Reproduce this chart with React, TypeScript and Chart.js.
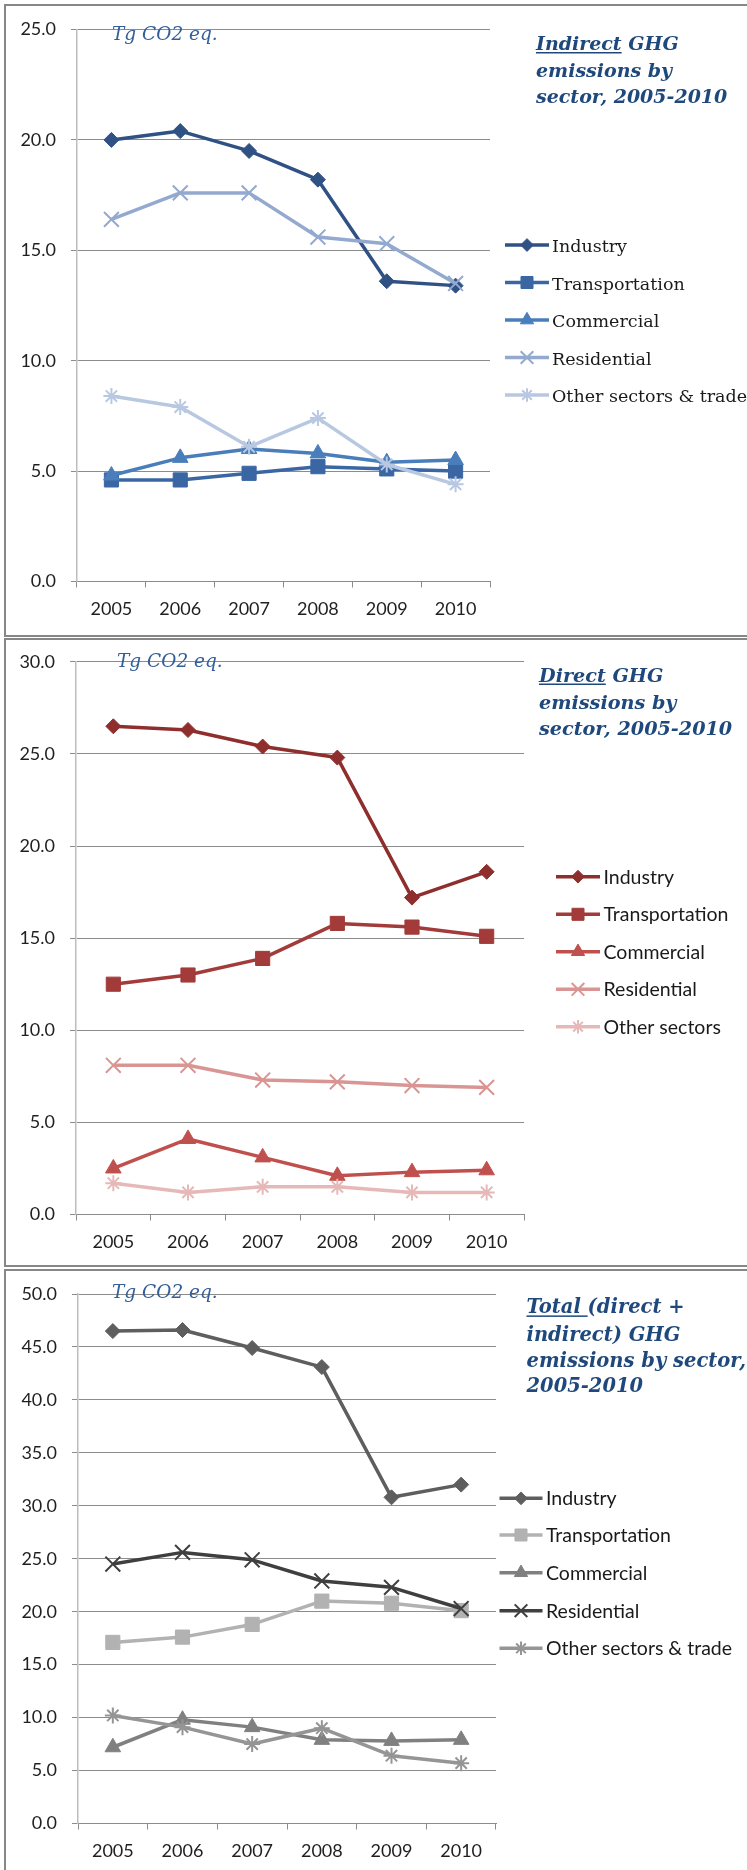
import React, { useEffect, useRef } from 'react';
import { Chart, registerables } from 'chart.js';

Chart.register(...registerables);

// ---------- data ----------
const years = ['2005', '2006', '2007', '2008', '2009', '2010'];

const indirectLabels = ['Industry', 'Transportation', 'Commercial', 'Residential', 'Other sectors & trade'];
const directLabels = ['Industry', 'Transportation', 'Commercial', 'Residential', 'Other sectors'];
const totalLabels = ['Industry', 'Transportation', 'Commercial', 'Residential', 'Other sectors & trade'];

const indirectIndustry = [20.0, 20.4, 19.5, 18.2, 13.6, 13.4];
const indirectTransportation = [4.6, 4.6, 4.9, 5.2, 5.1, 5.0];
const indirectCommercial = [4.8, 5.6, 6.0, 5.8, 5.4, 5.5];
const indirectResidential = [16.4, 17.6, 17.6, 15.6, 15.3, 13.5];
const indirectOther = [8.4, 7.9, 6.1, 7.4, 5.3, 4.4];

const directIndustry = [26.5, 26.3, 25.4, 24.8, 17.2, 18.6];
const directTransportation = [12.5, 13.0, 13.9, 15.8, 15.6, 15.1];
const directCommercial = [2.5, 4.1, 3.1, 2.1, 2.3, 2.4];
const directResidential = [8.1, 8.1, 7.3, 7.2, 7.0, 6.9];
const directOther = [1.7, 1.2, 1.5, 1.5, 1.2, 1.2];

const totalIndustry = [46.5, 46.6, 44.9, 43.1, 30.8, 32.0];
const totalTransportation = [17.1, 17.6, 18.8, 21.0, 20.8, 20.1];
const totalCommercial = [7.2, 9.8, 9.1, 7.9, 7.8, 7.9];
const totalResidential = [24.5, 25.6, 24.9, 22.9, 22.3, 20.3];
const totalOther = [10.2, 9.1, 7.5, 9.0, 6.4, 5.7];

const indirectTitle = ['Indirect GHG', 'emissions by', 'sector, 2005-2010'];
const directTitle = ['Direct GHG', 'emissions by', 'sector, 2005-2010'];
const totalTitle = ['Total (direct +', 'indirect) GHG', 'emissions by sector,', '2005-2010'];
const underlinedWords = ['Indirect', 'Direct', 'Total '];
const unitLabel = 'Tg CO2 eq.';
const yMaxes = [25, 30, 50];

// ---------- styling ----------
const blueColors = ['#2F5184', '#3A67A4', '#4A7EBB', '#93A9CF', '#B9C8E1'];
const redColors = ['#8E2F2D', '#A23B39', '#C0504D', '#D99593', '#E6B9B8'];
const greyColors = ['#5E5E5E', '#B2B2B2', '#808080', '#3F3F3F', '#959595'];
const markerStyles = ['rectRot', 'rect', 'triangle', 'crossRot', 'star'];
const markerRadii = [7.5, 10, 9, 10.5, 8];
const markerBorders = [1, 1, 1, 2, 2];

const W = 747;

type Panel = {
  canvasTop: number;
  height: number;
  chartLeft: number;
  chartRight: number;
  chartTop: number;
  chartBottom: number;
  yMax: number;
  labels: string[];
  series: number[][];
  colors: string[];
  title: string[];
  underline: string;
  titleX: number;
  titleY: number[];
  titleSize: number;
  unitX: number;
  unitY: number;
  legX0: number;
  legX1: number;
  legTextX: number;
  legY: number[];
  legFont: string;
  legBase: number;
};

const panels: Panel[] = [
  {
    canvasTop: 0, height: 636,
    chartLeft: 77, chartRight: 490, chartTop: 29.5, chartBottom: 581.5,
    yMax: yMaxes[0], labels: indirectLabels,
    series: [indirectIndustry, indirectTransportation, indirectCommercial, indirectResidential, indirectOther],
    colors: blueColors,
    title: indirectTitle, underline: underlinedWords[0], titleX: 536, titleY: [50, 76.5, 103], titleSize: 19,
    unitX: 112, unitY: 39.5,
    legX0: 505, legX1: 549, legTextX: 552, legY: [245, 282.5, 320, 357.5, 395],
    legFont: '17.5px "DejaVu Serif"', legBase: 7,
  },
  {
    canvasTop: 636, height: 632,
    chartLeft: 76, chartRight: 524, chartTop: 24.5, chartBottom: 578.5,
    yMax: yMaxes[1], labels: directLabels,
    series: [directIndustry, directTransportation, directCommercial, directResidential, directOther],
    colors: redColors,
    title: directTitle, underline: underlinedWords[1], titleX: 539, titleY: [45.5, 72.5, 99], titleSize: 19.2,
    unitX: 117, unitY: 30.5,
    legX0: 556, legX1: 600, legTextX: 603.5, legY: [240.7, 278.3, 315.7, 353.3, 390.7],
    legFont: '19.5px Lato', legBase: 7,
  },
  {
    canvasTop: 1268, height: 602,
    chartLeft: 78, chartRight: 496, chartTop: 26, chartBottom: 555.5,
    yMax: yMaxes[2], labels: totalLabels,
    series: [totalIndustry, totalTransportation, totalCommercial, totalResidential, totalOther],
    colors: greyColors,
    title: totalTitle, underline: underlinedWords[2], titleX: 526.5, titleY: [45.4, 72.6, 99.1, 124.4], titleSize: 19.5,
    unitX: 112, unitY: 29.8,
    legX0: 499.5, legX1: 542.5, legTextX: 546, legY: [230.3, 267, 304.7, 342.7, 380.3],
    legFont: '19.5px Lato', legBase: 7,
  },
];

function drawMarker(ctx: CanvasRenderingContext2D, style: string, x: number, y: number, r: number, color: string, bw: number) {
  ctx.save();
  ctx.fillStyle = color;
  ctx.strokeStyle = color;
  ctx.lineWidth = bw;
  const q = Math.SQRT1_2 * r;
  ctx.beginPath();
  if (style === 'rectRot') {
    ctx.moveTo(x - r, y);
    ctx.lineTo(x, y - r);
    ctx.lineTo(x + r, y);
    ctx.lineTo(x, y + r);
    ctx.closePath();
    ctx.fill();
    ctx.stroke();
  } else if (style === 'rect') {
    ctx.rect(x - q, y - q, 2 * q, 2 * q);
    ctx.fill();
    ctx.stroke();
  } else if (style === 'triangle') {
    ctx.moveTo(x, y - r);
    ctx.lineTo(x + r * Math.sin((2 * Math.PI) / 3), y - r * Math.cos((2 * Math.PI) / 3));
    ctx.lineTo(x + r * Math.sin((4 * Math.PI) / 3), y - r * Math.cos((4 * Math.PI) / 3));
    ctx.closePath();
    ctx.fill();
    ctx.stroke();
  } else if (style === 'crossRot') {
    ctx.moveTo(x - q, y - q);
    ctx.lineTo(x + q, y + q);
    ctx.moveTo(x + q, y - q);
    ctx.lineTo(x - q, y + q);
    ctx.stroke();
  } else if (style === 'star') {
    ctx.moveTo(x - q, y - q);
    ctx.lineTo(x + q, y + q);
    ctx.moveTo(x + q, y - q);
    ctx.lineTo(x - q, y + q);
    ctx.moveTo(x, y - r);
    ctx.lineTo(x, y + r);
    ctx.moveTo(x - r, y);
    ctx.lineTo(x + r, y);
    ctx.stroke();
  }
  ctx.restore();
}

function makeDecor(p: Panel) {
  return {
    id: 'decor',
    afterDraw(chart: any) {
      const ctx: CanvasRenderingContext2D = chart.ctx;
      ctx.save();
      ctx.textAlign = 'left';
      ctx.textBaseline = 'alphabetic';
      // unit
      ctx.font = 'italic 18.5px "DejaVu Serif"';
      ctx.fillStyle = '#335E99';
      ctx.fillText(unitLabel, p.unitX, p.unitY);
      // title
      ctx.font = `italic bold ${p.titleSize}px "DejaVu Serif"`;
      ctx.fillStyle = '#1F497D';
      p.title.forEach((line, i) => {
        const y = p.titleY[i];
        ctx.fillText(line, p.titleX, y);
        if (i === 0) {
          const w = ctx.measureText(p.underline).width;
          ctx.fillRect(p.titleX, y + 2, w, 1.5);
        }
      });
      // legend
      chart.data.datasets.forEach((ds: any, i: number) => {
        const y = p.legY[i];
        ctx.strokeStyle = ds.borderColor;
        ctx.lineWidth = 3.5;
        ctx.beginPath();
        ctx.moveTo(p.legX0, y);
        ctx.lineTo(p.legX1, y);
        ctx.stroke();
        drawMarker(ctx, ds.pointStyle, (p.legX0 + p.legX1) / 2, y, ds.pointRadius * 0.85, ds.borderColor, ds.pointBorderWidth);
        ctx.fillStyle = '#1a1a1a';
        ctx.font = p.legFont;
        ctx.fillText(ds.label, p.legTextX, y + p.legBase);
      });
      ctx.restore();
    },
  };
}

function buildChart(canvas: HTMLCanvasElement, p: Panel) {
  const tickFont = { family: 'Lato', size: 18 };
  const datasets = p.series.map((data, i) => ({
    label: p.labels[i],
    data,
    borderColor: p.colors[i],
    backgroundColor: p.colors[i],
    borderWidth: 3.5,
    borderJoinStyle: 'round' as const,
    tension: 0,
    pointStyle: markerStyles[i],
    pointRadius: markerRadii[i],
    pointBorderWidth: markerBorders[i],
    pointBackgroundColor: p.colors[i],
    pointBorderColor: p.colors[i],
    order: p.series.length - 1 - i,
  }));
  return new Chart(canvas, {
    type: 'line',
    data: { labels: years, datasets },
    options: {
      responsive: false,
      animation: false,
      devicePixelRatio: 1,
      layout: {
        padding: {
          left: 0,
          top: p.chartTop,
          right: W - p.chartRight,
          bottom: p.height - p.chartBottom - 40,
        },
      },
      plugins: {
        legend: { display: false },
        tooltip: { enabled: false },
        title: { display: false },
      },
      scales: {
        x: {
          type: 'category',
          offset: true,
          grid: { drawOnChartArea: false, drawTicks: true, tickLength: 6, color: '#8c8c8c', offset: true },
          border: { color: '#8c8c8c', width: 1 },
          ticks: { font: tickFont, color: '#1f1f1f', padding: 10.5, maxRotation: 0, autoSkip: false },
          afterFit: (s: any) => {
            s.height = 40;
          },
        },
        y: {
          min: 0,
          max: p.yMax,
          ticks: {
            stepSize: 5,
            font: tickFont,
            color: '#1f1f1f',
            padding: 15,
            callback: (v: any) => Number(v).toFixed(1),
          },
          grid: { color: '#8c8c8c', tickLength: 6, drawTicks: true },
          border: { color: '#bdbdbd', width: 1.5 },
          afterFit: (s: any) => {
            s.width = p.chartLeft;
          },
        },
      },
    },
    plugins: [makeDecor(p)],
  } as any);
}

export default function App() {
  const r0 = useRef<HTMLCanvasElement>(null);
  const r1 = useRef<HTMLCanvasElement>(null);
  const r2 = useRef<HTMLCanvasElement>(null);

  useEffect(() => {
    const refs = [r0, r1, r2];
    const charts = refs.map((r, i) => buildChart(r.current as HTMLCanvasElement, panels[i]));
    return () => charts.forEach((c) => c.destroy());
  }, []);

  const border = '2px solid #878787';
  const refs = [r0, r1, r2];

  return (
    <div style={{ position: 'absolute', left: 0, top: 0, width: W, height: 1870, overflow: 'hidden', background: '#fff' }}>
      <div style={{ position: 'absolute', left: 4, top: 4, width: W - 4, height: 633, boxSizing: 'border-box', borderTop: border, borderLeft: border, borderBottom: border }} />
      <div style={{ position: 'absolute', left: 4, top: 638, width: W - 4, height: 629, boxSizing: 'border-box', borderTop: border, borderLeft: border, borderBottom: border }} />
      <div style={{ position: 'absolute', left: 4, top: 1269, width: W - 4, height: 601, boxSizing: 'border-box', borderTop: border, borderLeft: border }} />
      {panels.map((p, i) => (
        <canvas
          key={i}
          ref={refs[i]}
          width={W}
          height={p.height}
          style={{ position: 'absolute', left: 0, top: p.canvasTop, width: W, height: p.height, display: 'block' }}
        />
      ))}
    </div>
  );
}
